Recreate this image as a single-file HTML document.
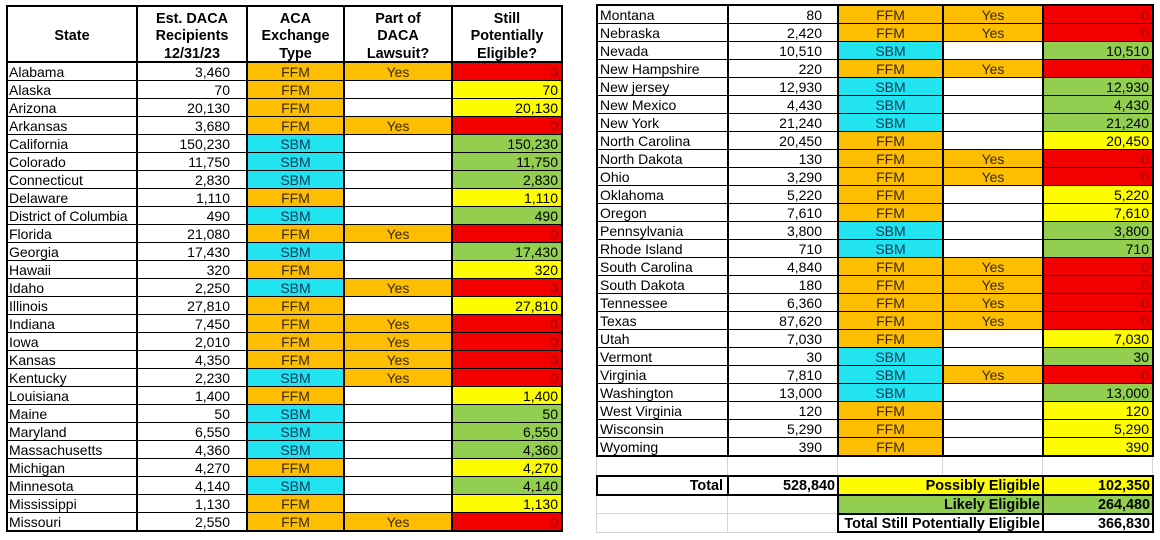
<!DOCTYPE html>
<html><head><meta charset="utf-8"><style>
html,body{margin:0;padding:0;background:#fff;}
body{width:1160px;height:540px;position:relative;overflow:hidden;font-family:"Liberation Sans",Arial,sans-serif;font-size:14px;color:#000;}
.t{position:absolute;display:grid;background:#000;padding:2px;column-gap:2px;row-gap:1px;}
#L{left:6px;top:5px;grid-template-columns:128px 108px 95px 106px 108px;grid-template-rows:55px repeat(26,17px);}
#R{left:596px;top:4px;grid-template-columns:129px 108px 103px 98px 108px;grid-template-rows:repeat(25,17px);}
.t>div{background:#fff;line-height:19px;white-space:nowrap;box-sizing:border-box;}
.t>.h{font-weight:bold;font-size:14.4px;line-height:17.5px;text-align:center;display:flex;align-items:center;justify-content:center;border-bottom:1px solid #000;padding-top:6px;}
.s{padding-left:1px;}
#R .s{padding-left:2px;}
.n{text-align:right;padding-right:16px;}
#R .n{padding-right:15px;}
.t>.f,.t>.y{background:#FDBE02;color:#3d2a00;text-align:center;}
.t>.b{background:#22E4F0;color:#0b3b55;text-align:center;}
.t>.r{background:#F20000;color:#a00000;text-align:right;padding-right:3px;}
.t>.yl{background:#FDFD00;text-align:right;padding-right:3px;}
.t>.g{background:#92CF50;text-align:right;padding-right:3px;}
.a{position:absolute;}
.c{position:absolute;line-height:19px;font-weight:bold;font-size:14.4px;text-align:right;white-space:nowrap;box-sizing:border-box;padding-right:2px;}
.gl{position:absolute;background:#d4d4d4;}
</style></head><body>

<div class="t" id="L">
<div class="h">State</div><div class="h">Est. DACA<br>Recipients<br>12/31/23</div><div class="h">ACA<br>Exchange<br>Type</div><div class="h">Part of<br>DACA<br>Lawsuit?</div><div class="h">Still<br>Potentially<br>Eligible?</div>
<div class="s">Alabama</div><div class="n">3,460</div><div class="f">FFM</div><div class="y">Yes</div><div class="r">0</div>
<div class="s">Alaska</div><div class="n">70</div><div class="f">FFM</div><div></div><div class="yl">70</div>
<div class="s">Arizona</div><div class="n">20,130</div><div class="f">FFM</div><div></div><div class="yl">20,130</div>
<div class="s">Arkansas</div><div class="n">3,680</div><div class="f">FFM</div><div class="y">Yes</div><div class="r">0</div>
<div class="s">California</div><div class="n">150,230</div><div class="b">SBM</div><div></div><div class="g">150,230</div>
<div class="s">Colorado</div><div class="n">11,750</div><div class="b">SBM</div><div></div><div class="g">11,750</div>
<div class="s">Connecticut</div><div class="n">2,830</div><div class="b">SBM</div><div></div><div class="g">2,830</div>
<div class="s">Delaware</div><div class="n">1,110</div><div class="f">FFM</div><div></div><div class="yl">1,110</div>
<div class="s" style="letter-spacing:-0.15px">District of Columbia</div><div class="n">490</div><div class="b">SBM</div><div></div><div class="g">490</div>
<div class="s">Florida</div><div class="n">21,080</div><div class="f">FFM</div><div class="y">Yes</div><div class="r">0</div>
<div class="s">Georgia</div><div class="n">17,430</div><div class="b">SBM</div><div></div><div class="g">17,430</div>
<div class="s">Hawaii</div><div class="n">320</div><div class="f">FFM</div><div></div><div class="yl">320</div>
<div class="s">Idaho</div><div class="n">2,250</div><div class="b">SBM</div><div class="y">Yes</div><div class="r">0</div>
<div class="s">Illinois</div><div class="n">27,810</div><div class="f">FFM</div><div></div><div class="yl">27,810</div>
<div class="s">Indiana</div><div class="n">7,450</div><div class="f">FFM</div><div class="y">Yes</div><div class="r">0</div>
<div class="s">Iowa</div><div class="n">2,010</div><div class="f">FFM</div><div class="y">Yes</div><div class="r">0</div>
<div class="s">Kansas</div><div class="n">4,350</div><div class="f">FFM</div><div class="y">Yes</div><div class="r">0</div>
<div class="s">Kentucky</div><div class="n">2,230</div><div class="b">SBM</div><div class="y">Yes</div><div class="r">0</div>
<div class="s">Louisiana</div><div class="n">1,400</div><div class="f">FFM</div><div></div><div class="yl">1,400</div>
<div class="s">Maine</div><div class="n">50</div><div class="b">SBM</div><div></div><div class="g">50</div>
<div class="s">Maryland</div><div class="n">6,550</div><div class="b">SBM</div><div></div><div class="g">6,550</div>
<div class="s">Massachusetts</div><div class="n">4,360</div><div class="b">SBM</div><div></div><div class="g">4,360</div>
<div class="s">Michigan</div><div class="n">4,270</div><div class="f">FFM</div><div></div><div class="yl">4,270</div>
<div class="s">Minnesota</div><div class="n">4,140</div><div class="b">SBM</div><div></div><div class="g">4,140</div>
<div class="s">Mississippi</div><div class="n">1,130</div><div class="f">FFM</div><div></div><div class="yl">1,130</div>
<div class="s">Missouri</div><div class="n">2,550</div><div class="f">FFM</div><div class="y">Yes</div><div class="r">0</div>
</div>

<div class="t" id="R">
<div class="s">Montana</div><div class="n">80</div><div class="f">FFM</div><div class="y">Yes</div><div class="r">0</div>
<div class="s">Nebraska</div><div class="n">2,420</div><div class="f">FFM</div><div class="y">Yes</div><div class="r">0</div>
<div class="s">Nevada</div><div class="n">10,510</div><div class="b">SBM</div><div></div><div class="g">10,510</div>
<div class="s">New Hampshire</div><div class="n">220</div><div class="f">FFM</div><div class="y">Yes</div><div class="r">0</div>
<div class="s">New jersey</div><div class="n">12,930</div><div class="b">SBM</div><div></div><div class="g">12,930</div>
<div class="s">New Mexico</div><div class="n">4,430</div><div class="b">SBM</div><div></div><div class="g">4,430</div>
<div class="s">New York</div><div class="n">21,240</div><div class="b">SBM</div><div></div><div class="g">21,240</div>
<div class="s">North Carolina</div><div class="n">20,450</div><div class="f">FFM</div><div></div><div class="yl">20,450</div>
<div class="s">North Dakota</div><div class="n">130</div><div class="f">FFM</div><div class="y">Yes</div><div class="r">0</div>
<div class="s">Ohio</div><div class="n">3,290</div><div class="f">FFM</div><div class="y">Yes</div><div class="r">0</div>
<div class="s">Oklahoma</div><div class="n">5,220</div><div class="f">FFM</div><div></div><div class="yl">5,220</div>
<div class="s">Oregon</div><div class="n">7,610</div><div class="f">FFM</div><div></div><div class="yl">7,610</div>
<div class="s">Pennsylvania</div><div class="n">3,800</div><div class="b">SBM</div><div></div><div class="g">3,800</div>
<div class="s">Rhode Island</div><div class="n">710</div><div class="b">SBM</div><div></div><div class="g">710</div>
<div class="s">South Carolina</div><div class="n">4,840</div><div class="f">FFM</div><div class="y">Yes</div><div class="r">0</div>
<div class="s">South Dakota</div><div class="n">180</div><div class="f">FFM</div><div class="y">Yes</div><div class="r">0</div>
<div class="s">Tennessee</div><div class="n">6,360</div><div class="f">FFM</div><div class="y">Yes</div><div class="r">0</div>
<div class="s">Texas</div><div class="n">87,620</div><div class="f">FFM</div><div class="y">Yes</div><div class="r">0</div>
<div class="s">Utah</div><div class="n">7,030</div><div class="f">FFM</div><div></div><div class="yl">7,030</div>
<div class="s">Vermont</div><div class="n">30</div><div class="b">SBM</div><div></div><div class="g">30</div>
<div class="s">Virginia</div><div class="n">7,810</div><div class="b">SBM</div><div class="y">Yes</div><div class="r">0</div>
<div class="s">Washington</div><div class="n">13,000</div><div class="b">SBM</div><div></div><div class="g">13,000</div>
<div class="s">West Virginia</div><div class="n">120</div><div class="f">FFM</div><div></div><div class="yl">120</div>
<div class="s">Wisconsin</div><div class="n">5,290</div><div class="f">FFM</div><div></div><div class="yl">5,290</div>
<div class="s">Wyoming</div><div class="n">390</div><div class="f">FFM</div><div></div><div class="yl">390</div>
</div>

<!-- blank row gridlines -->
<div class="gl" style="left:596px;top:457px;width:1px;height:18px"></div>
<div class="gl" style="left:727px;top:457px;width:1px;height:18px"></div>
<div class="gl" style="left:837px;top:457px;width:1px;height:18px"></div>
<div class="gl" style="left:942px;top:457px;width:1px;height:18px"></div>
<div class="gl" style="left:1042px;top:457px;width:1px;height:18px"></div>
<div class="gl" style="left:1152px;top:457px;width:1px;height:18px"></div>

<!-- left gridlines for likely / total still rows -->
<div class="gl" style="left:596px;top:496px;width:1px;height:37px"></div>
<div class="gl" style="left:727px;top:496px;width:1px;height:37px"></div>
<div class="gl" style="left:596px;top:513px;width:242px;height:1px"></div>
<div class="gl" style="left:596px;top:532px;width:242px;height:1px"></div>

<!-- totals block -->
<div class="a" style="left:596px;top:475px;width:558px;height:21px;background:#000"></div>
<div class="a" style="left:837px;top:494px;width:317px;height:39px;background:#000"></div>

<div class="c" style="left:598px;top:477px;width:129px;height:17px;background:#fff;padding-right:4px">Total</div>
<div class="c" style="left:729px;top:477px;width:108px;height:17px;background:#fff">528,840</div>
<div class="c" style="left:839px;top:477px;width:203px;height:17px;background:#FDFD00">Possibly Eligible</div>
<div class="c" style="left:1044px;top:477px;width:108px;height:17px;background:#FDFD00">102,350</div>

<div class="c" style="left:839px;top:496px;width:203px;height:17px;background:#92CF50">Likely Eligible</div>
<div class="c" style="left:1044px;top:496px;width:108px;height:17px;background:#92CF50">264,480</div>

<div class="c" style="left:839px;top:515px;width:203px;height:16px;background:#fff">Total Still Potentially Eligible</div>
<div class="c" style="left:1044px;top:515px;width:108px;height:16px;background:#fff">366,830</div>

</body></html>
